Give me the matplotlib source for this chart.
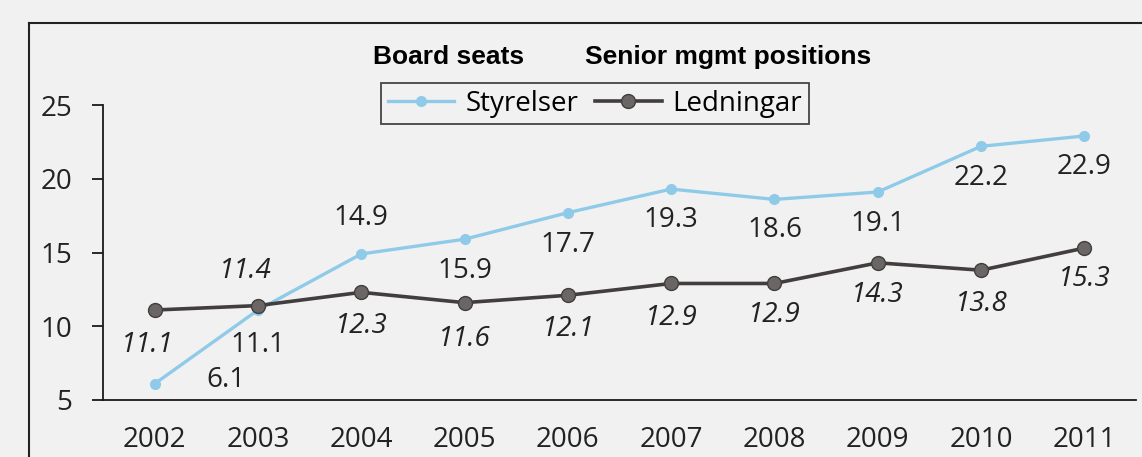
import matplotlib.pyplot as plt
from matplotlib.lines import Line2D

years = ["2002", "2003", "2004", "2005", "2006", "2007", "2008", "2009", "2010", "2011"]
styrelser = [6.1, 11.1, 14.9, 15.9, 17.7, 19.3, 18.6, 19.1, 22.2, 22.9]
ledningar = [11.1, 11.4, 12.3, 11.6, 12.1, 12.9, 12.9, 14.3, 13.8, 15.3]

# label offsets in points (dx, dy) relative to each marker
offStyr = [(51, 3), (0, -25), (0, 26), (0, -23), (0, -23), (0, -22), (0, -22), (0, -23), (0, -23), (0, -22)]
offLedn = [(-5, -25), (-9, 25), (0, -24), (0, -26), (0, -24), (0, -25), (0, -23), (0, -23), (0, -24), (0, -22)]

bg = '#f1f1f1'
blue = '#8fcbe8'
grey = '#423e3e'
txt = '#222222'
fontSize = 20

fig = plt.figure(figsize=(11.42, 4.57), dpi=100, facecolor=bg)
ax = fig.add_axes([103 / 1142, 1 - 400 / 457, 1033 / 1142, 295 / 457])
ax.set_facecolor(bg)

x = list(range(len(years)))
ax.plot(x, styrelser, color=blue, linewidth=2.4, marker='o', markersize=7,
        markerfacecolor=blue, markeredgecolor=blue, label='Styrelser', zorder=3)
ax.plot(x, ledningar, color=grey, linewidth=2.6, marker='o', markersize=10,
        markerfacecolor='#6a6666', markeredgecolor=grey, label='Ledningar', zorder=4)

for i in x:
    ax.annotate(f"{styrelser[i]:.1f}", (i, styrelser[i]), xytext=offStyr[i],
                textcoords='offset points', ha='center', va='center',
                fontsize=fontSize, family='Open Sans', color=txt)
    ax.annotate(f"{ledningar[i]:.1f}", (i, ledningar[i]), xytext=offLedn[i],
                textcoords='offset points', ha='center', va='center',
                fontsize=fontSize, family='Open Sans', style='italic', color=txt)

ax.set_xlim(-0.5, 9.5)
ax.set_ylim(5, 25)
ax.set_yticks([5, 10, 15, 20, 25])
ax.set_xticks(x)
ax.set_xticklabels(years)
for s in ['top', 'right']:
    ax.spines[s].set_visible(False)
for s in ['left', 'bottom']:
    ax.spines[s].set_linewidth(1.3)
    ax.spines[s].set_color('#1a1a1a')
ax.tick_params(axis='y', length=8, width=1.3, pad=14, labelsize=fontSize, colors='#1a1a1a')
ax.tick_params(axis='x', length=0, pad=19, labelsize=fontSize, colors='#1a1a1a')
for lab in ax.get_xticklabels() + ax.get_yticklabels():
    lab.set_family('Open Sans')
    lab.set_color(txt)

leg = fig.legend(loc='center', bbox_to_anchor=(595 / 1142, 1 - 103.5 / 457), ncol=2,
                 frameon=True, fancybox=False, edgecolor='#1a1a1a', facecolor=bg,
                 prop={'family': 'Open Sans', 'size': 20}, handlelength=2.4,
                 columnspacing=0.6, handletextpad=0.4, borderpad=0.25, borderaxespad=0)
leg.get_frame().set_linewidth(1.3)

fig.text(373 / 1142, 1 - 57 / 457, "Board seats", ha='left', va='center',
         fontsize=19, fontweight='bold', family='Liberation Sans')
fig.text(585 / 1142, 1 - 57 / 457, "Senior mgmt positions", ha='left', va='center',
         fontsize=19, fontweight='bold', family='Liberation Sans')

# outer frame of the scanned page
fig.add_artist(Line2D([29 / 1142, 29 / 1142], [0, 1 - 23 / 457], color='#222222', linewidth=1.5))
fig.add_artist(Line2D([29 / 1142, 1], [1 - 23 / 457, 1 - 23 / 457], color='#222222', linewidth=1.5))

fig.savefig('out.png', dpi=100, facecolor=bg)
